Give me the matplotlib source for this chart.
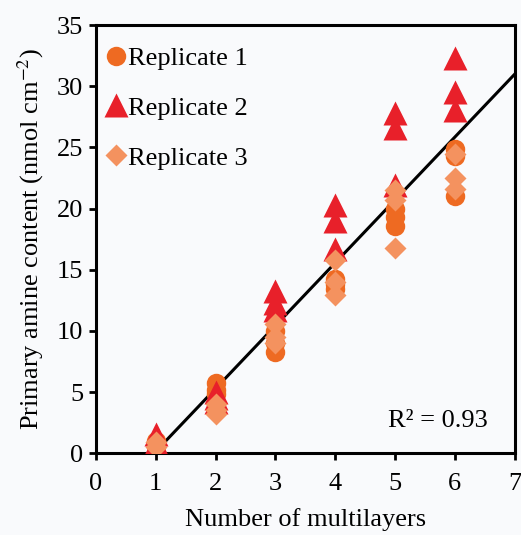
import matplotlib
matplotlib.use("Agg")
import matplotlib.pyplot as plt
import numpy as np

# number of multilayers for each measurement
layers = [1, 1, 2, 2, 2, 3, 3, 3, 4, 4, 4, 5, 5, 5, 6, 6, 6]

# primary amine content (nmol cm-2)
rep1 = [1.0, 0.6, 5.7, 5.2, 4.8, 10.0, 9.0, 8.3, 14.2, 13.8, 13.4, 20.0, 19.3, 18.6, 24.9, 24.3, 21.0]
rep2 = [1.6, 0.8, 5.0, 4.5, 4.2, 13.3, 12.3, 11.7, 20.3, 19.0, 16.7, 27.8, 26.6, 21.9, 32.3, 29.5, 28.1]
rep3 = [0.9, 0.5, 4.0, 3.5, 3.2, 10.6, 9.5, 9.0, 15.8, 14.0, 12.9, 21.5, 20.7, 16.8, 24.5, 22.5, 21.6]

fit_x = [1, 7]
r2_label = "R\u00b2 = 0.93"

FS = 19

plt.rcParams.update({
    "font.family": "Liberation Serif",
    "mathtext.fontset": "stix",
    "font.size": FS,
})

fig = plt.figure(figsize=(5.21, 5.35), dpi=100, facecolor="#f9fafc")
ax = fig.add_axes([0.184, 0.153, 0.804, 0.8])
ax.set_facecolor("#f9fafc")

all_x = np.array(layers * 3, dtype=float)
all_y = np.array(rep1 + rep2 + rep3)
slope, intercept = np.polyfit(all_x, all_y, 1)
fx = np.array(fit_x, dtype=float)
ax.plot(fx, slope * fx + intercept, color="black", lw=2.2, zorder=1)

ax.plot(layers, rep1, "o", ms=14, color="#ee6a22", mec="none", label="Replicate 1", zorder=2)
ax.plot(layers, rep2, "^", ms=17, color="#e8202a", mec="none", label="Replicate 2", zorder=3)
ax.plot(layers, rep3, "D", ms=11.5, color="#f4925f", mec="none", label="Replicate 3", zorder=4)

ax.text(6.55, 2.6, r2_label, ha="right", va="center", fontsize=FS)

ax.set_xlim(0, 7)
ax.set_ylim(0, 35)
ax.set_xticks(range(0, 8))
ax.set_yticks(range(0, 36, 5))
ax.set_xlabel("Number of multilayers", labelpad=10)
ax.set_ylabel("Primary amine content (nmol cm$^{-2}$)", labelpad=8)

for sp in ax.spines.values():
    sp.set_linewidth(2.2)
ax.tick_params(direction="out", length=5, width=2, labelsize=FS, pad=4)
ax.tick_params(axis="x", pad=9)

ax.legend(loc="upper left", bbox_to_anchor=(0.004, 0.975), frameon=False,
          handlelength=0.6, handletextpad=0.15, labelspacing=1.0,
          borderaxespad=0.0, borderpad=0.4, fontsize=FS)

fig.savefig("out.png", dpi=100, facecolor=fig.get_facecolor())
